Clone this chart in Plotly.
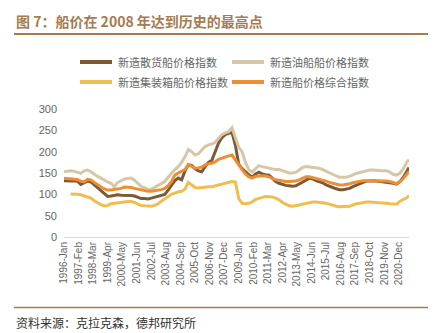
import pandas as pd
import plotly.graph_objects as go

# Quarterly observations (Jan/Apr/Jul/Oct) 1996–2021, last point 2021-Sep
dates = list(pd.date_range("1996-01-01", "2021-07-01", freq="QS").strftime("%Y-%m-%d")) + ["2021-09-01"]

bulk = [
    132, 131, 131, 131,  # 1996
    131, 123, 127, 131,  # 1997
    129, 122, 115, 108,  # 1998
    100, 95, 96, 98,     # 1999
    99, 98, 98, 98,      # 2000
    97, 96, 93, 90,      # 2001
    90, 89, 91, 93,      # 2002
    95, 97, 100, 110,    # 2003
    120, 132, 138, 134,  # 2004
    155, 169, 168, 160,  # 2005
    155, 153, 165, 175,  # 2006
    180, 200, 220, 233,  # 2007
    240, 243, 245, 215,  # 2008
    170, 160, 152, 146,  # 2009
    140, 148, 152, 148,  # 2010
    146, 145, 138, 130,  # 2011
    126, 123, 121, 120,  # 2012
    119, 120, 124, 128,  # 2013
    133, 138, 136, 132,  # 2014
    130, 127, 122, 118,  # 2015
    116, 113, 111, 111,  # 2016
    112, 114, 118, 122,  # 2017
    125, 128, 131, 132,  # 2018
    132, 131, 130, 130,  # 2019
    129, 128, 126, 124,  # 2020
    130, 140, 153, 163,  # 2021
]

tanker = [
    153, 154, 155, 154,
    151, 149, 155, 157,
    153, 147, 142, 138,
    133, 129, 126, 118,
    128, 133, 136, 137,
    138, 133, 126, 118,
    115, 111, 112, 117,
    122, 125, 130, 140,
    150, 158, 165, 175,
    188, 205, 200, 192,
    195, 204, 212, 216,
    218, 222, 232, 240,
    244, 247, 256, 235,
    210, 200, 175, 158,
    152, 160, 167, 165,
    163, 161, 160, 158,
    158, 155, 152, 150,
    150, 152, 157, 163,
    165, 164, 163, 162,
    161, 158, 154, 150,
    147, 143, 140, 140,
    140, 142, 146, 149,
    151, 153, 155, 157,
    157, 157, 156, 155,
    155, 152, 147, 145,
    150, 160, 175, 181,
]

container = [
    None, None, 101, 101,
    100, 99, 96, 94,
    91, 85, 80, 76,
    73, 74, 78, 79,
    80, 81, 83, 83,
    83, 81, 77, 74,
    73, 72, 72, 74,
    78, 84, 90, 95,
    100, 103, 106, 107,
    112, 128, 122, 116,
    115, 116, 118, 118,
    118, 120, 122, 124,
    126, 128, 130, 129,
    90, 79, 78, 79,
    82, 88, 91, 93,
    95, 95, 94, 91,
    87, 81, 76, 73,
    72, 73, 75, 77,
    79, 81, 82, 82,
    81, 81, 79, 77,
    74, 72, 71, 71,
    72, 72, 75, 78,
    79, 81, 82, 82,
    82, 81, 80, 80,
    79, 78, 77, 77,
    84, 88, 92, 97,
]

composite = [
    138, 137, 136, 136,
    135, 131, 129, 135,
    134, 128, 122, 117,
    113, 110, 110, 111,
    112, 114, 117, 117,
    116, 114, 112, 110,
    108, 107, 107, 108,
    109, 111, 114, 120,
    130, 145, 150, 155,
    158, 170, 165, 161,
    162, 164, 169, 172,
    173, 176, 182, 185,
    187, 190, 192, 180,
    168, 158, 148, 141,
    138, 142, 143, 143,
    143, 141, 137, 134,
    133, 131, 130, 130,
    130, 131, 134, 138,
    141, 141, 139, 137,
    136, 134, 131, 128,
    126, 124, 122, 122,
    123, 125, 127, 129,
    131, 132, 132, 132,
    132, 132, 131, 131,
    131, 130, 128, 125,
    130, 137, 147, 153,
]

tick_dates = ["1996-01", "1997-02", "1998-03", "1999-04", "2000-05", "2001-06",
              "2002-07", "2003-08", "2004-09", "2005-10", "2006-11", "2007-12",
              "2009-01", "2010-02", "2011-03", "2012-04", "2013-05", "2014-06",
              "2015-07", "2016-08", "2017-09", "2018-10", "2019-11", "2020-12"]
tick_labels = ["1996-Jan", "1997-Feb", "1998-Mar", "1999-Apr", "2000-May", "2001-Jun",
               "2002-Jul", "2003-Aug", "2004-Sep", "2005-Oct", "2006-Nov", "2007-Dec",
               "2009-Jan", "2010-Feb", "2011-Mar", "2012-Apr", "2013-May", "2014-Jun",
               "2015-Jul", "2016-Aug", "2017-Sep", "2018-Oct", "2019-Nov", "2020-Dec"]

series_names = ["新造散货船价格指数", "新造油船船价格指数", "新造集装箱船价格指数", "新造船价格综合指数"]
series_values = [bulk, tanker, container, composite]
series_colors = ["#7B5A36", "#D7C7A6", "#F0BD52", "#EC8E34"]

W, H = 436, 333
L, R, T, B = 64, 27, 109, 96
PW, PH = W - L - R, H - T - B


def px_x(x):
    return (x - L) / PW


def px_y(y):
    return (H - B - y) / PH


fig = go.Figure()
for name, vals, color in zip(series_names, series_values, series_colors):
    fig.add_trace(go.Scatter(
        x=dates, y=vals, name=name, mode="lines",
        line=dict(color=color, width=3), connectgaps=False,
    ))

cjk = "Noto Sans CJK SC"
brown = "#A57B52"

fig.update_layout(
    width=W, height=H,
    margin=dict(l=L, r=R, t=T, b=B),
    paper_bgcolor="white", plot_bgcolor="white",
    font=dict(family="Liberation Sans, Arial", color="#666666", size=11),
    showlegend=False,
    xaxis=dict(
        type="date", range=["1996-01-01", "2021-09-01"],
        tickvals=[d + "-01" for d in tick_dates], ticktext=tick_labels,
        tickangle=-90, tickfont=dict(size=10, color="#666666"),
        showgrid=False, zeroline=False, showline=True,
        linecolor="#D9D9D9", linewidth=1, ticks="",
    ),
    yaxis=dict(
        range=[0, 300], tickvals=[0, 50, 100, 150, 200, 250, 300],
        tickfont=dict(size=11, color="#666666"),
        showgrid=False, zeroline=False, showline=False, ticks="",
        ticklabelstandoff=6,
    ),
)

# Legend laid out in two columns and two rows
legend_slots = [(80, 62), (232, 62), (80, 82), (232, 82)]
for name, color, (lx, ly) in zip(series_names, series_colors, legend_slots):
    fig.add_shape(type="line", xref="paper", yref="paper",
                  x0=px_x(lx), x1=px_x(lx + 32), y0=px_y(ly), y1=px_y(ly),
                  line=dict(color=color, width=4))
    fig.add_annotation(text=name, xref="paper", yref="paper",
                       x=px_x(lx + 36), y=px_y(ly), xanchor="left", yanchor="middle",
                       showarrow=False,
                       font=dict(family=cjk, size=11, color="#666666"))

# Header: title and rule
fig.add_annotation(
    text="<b>图 7：船价在 2008 年达到历史的最高点</b>",
    xref="paper", yref="paper",
    x=px_x(14), y=px_y(21),
    xanchor="left", yanchor="middle", showarrow=False,
    font=dict(family=cjk, size=14, color=brown),
)
fig.add_shape(type="line", xref="paper", yref="paper",
              x0=px_x(14), x1=px_x(428), y0=px_y(34), y1=px_y(34),
              line=dict(color=brown, width=2))

# Footer: rule and source note
fig.add_shape(type="line", xref="paper", yref="paper",
              x0=px_x(14), x1=px_x(428), y0=px_y(307.5), y1=px_y(307.5),
              line=dict(color=brown, width=1.5))
fig.add_annotation(
    text="资料来源：克拉克森，德邦研究所",
    xref="paper", yref="paper",
    x=px_x(14), y=px_y(322),
    xanchor="left", yanchor="middle", showarrow=False,
    font=dict(family=cjk, size=12, color="#333333"),
)

fig.write_html("out.html")
